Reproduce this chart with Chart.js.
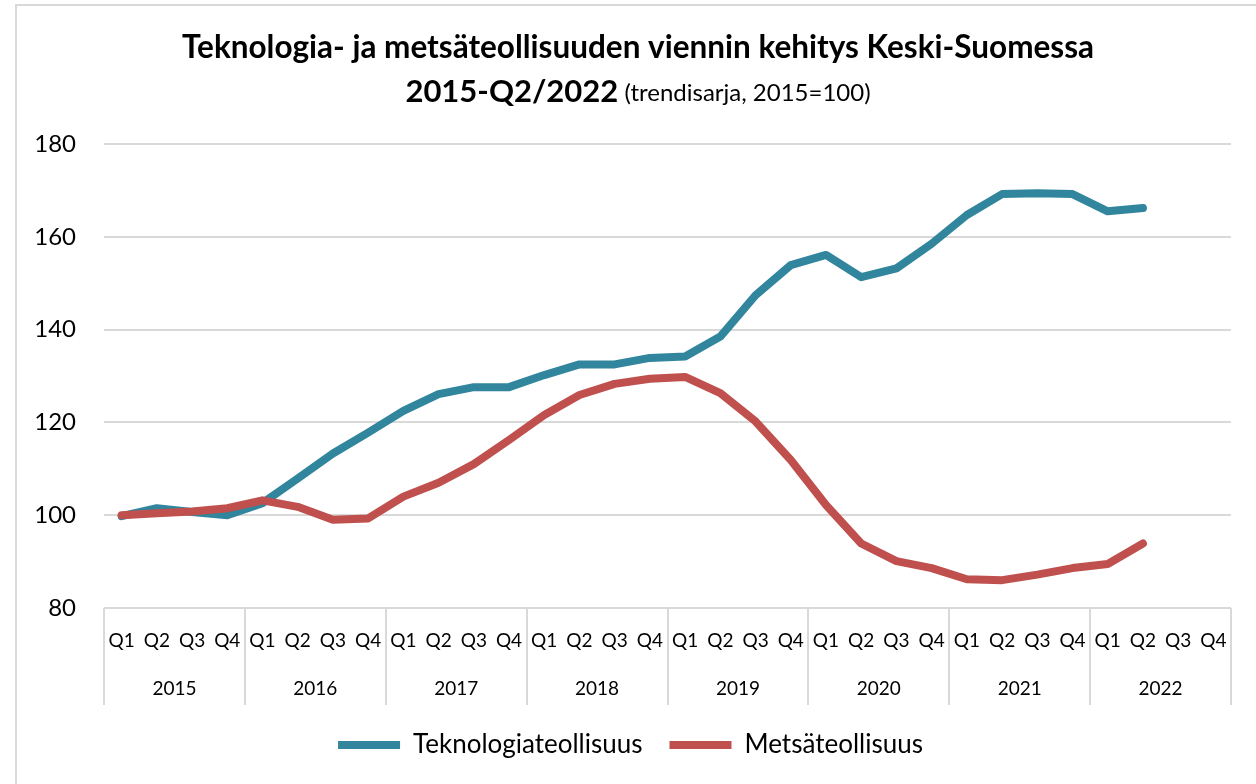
<!DOCTYPE html>
<html>
<head>
<meta charset="utf-8">
<script src="https://cdn.jsdelivr.net/npm/chart.js@4/dist/chart.umd.min.js"></script>
<style>
  html, body { margin: 0; padding: 0; background: #fff; overflow: hidden; }
  #wrap { width: 1256px; height: 784px; position: relative; }
</style>
</head>
<body>
<div id="wrap"><canvas id="kaavio" width="1256" height="784"></canvas></div>
<script>
const vuodet = ['2015', '2016', '2017', '2018', '2019', '2020', '2021', '2022'];
const neljannekset = ['Q1', 'Q2', 'Q3', 'Q4'];
const kvartaalit = vuodet.flatMap(() => neljannekset);

const teknologia = [99.8, 101.5, 100.7, 100.0, 102.6, 107.9, 113.3, 117.8,
  122.5, 126.1, 127.6, 127.6, 130.2, 132.5, 132.5, 133.9,
  134.2, 138.5, 147.4, 153.9, 156.1, 151.3, 153.2, 158.5,
  164.7, 169.2, 169.4, 169.2, 165.5, 166.2, null, null];

const metsa = [100.0, 100.4, 100.8, 101.5, 103.2, 101.8, 99.0, 99.3,
  104.0, 107.0, 111.0, 116.2, 121.6, 125.9, 128.3, 129.4,
  129.8, 126.3, 120.2, 111.9, 102.2, 93.9, 90.1, 88.6,
  86.2, 86.0, 87.2, 88.6, 89.5, 93.9, null, null];

const otsikko1 = 'Teknologia- ja metsäteollisuuden viennin kehitys Keski-Suomessa';
const otsikko2a = '2015-Q2/2022';
const otsikko2b = ' (trendisarja, 2015=100)';

const FONTTI = 'Lato, "Open Sans", sans-serif';
const HARMAA = '#d9d9d9';

// kehys, otsikko ja vuosien erottimet
const kehysJaOtsikko = {
  id: 'kehysJaOtsikko',
  beforeDraw(chart) {
    const ctx = chart.ctx;
    ctx.save();
    ctx.fillStyle = '#fff';
    ctx.fillRect(0, 0, chart.width, chart.height);
    ctx.strokeStyle = HARMAA;
    ctx.lineWidth = 2;
    ctx.strokeRect(16, 5, chart.width + 10, chart.height + 10);
    ctx.restore();
  },
  afterDraw(chart) {
    const ctx = chart.ctx;
    const keski = 638;
    ctx.save();
    ctx.fillStyle = '#000';
    ctx.textBaseline = 'middle';
    ctx.textAlign = 'center';
    ctx.font = 'bold 31.5px ' + FONTTI;
    ctx.fillText(otsikko1, keski, 48);

    ctx.textAlign = 'left';
    ctx.font = 'bold 31px ' + FONTTI;
    const l1 = ctx.measureText(otsikko2a).width;
    ctx.font = '24px ' + FONTTI;
    const l2 = ctx.measureText(otsikko2b).width;
    const alku = keski - (l1 + l2) / 2;
    ctx.font = 'bold 31px ' + FONTTI;
    ctx.fillText(otsikko2a, alku, 92);
    ctx.font = '24px ' + FONTTI;
    ctx.fillText(otsikko2b, alku + l1, 93);

    const x = chart.scales.x;
    const ala = chart.chartArea.bottom;
    ctx.strokeStyle = HARMAA;
    ctx.lineWidth = 2;
    for (let i = 0; i <= kvartaalit.length; i += 4) {
      const px = Math.round(x.getPixelForValue(i - 0.5));
      ctx.beginPath();
      ctx.moveTo(px, ala);
      ctx.lineTo(px, ala + 97);
      ctx.stroke();
    }
    ctx.restore();
  }
};

new Chart(document.getElementById('kaavio'), {
  type: 'line',
  data: {
    labels: kvartaalit,
    datasets: [
      {
        label: 'Teknologiateollisuus',
        data: teknologia,
        borderColor: '#31859C',
        backgroundColor: '#31859C',
        borderWidth: 8,
        borderCapStyle: 'round',
        borderJoinStyle: 'round',
        pointRadius: 0,
        tension: 0,
        order: 2
      },
      {
        label: 'Metsäteollisuus',
        data: metsa,
        borderColor: '#C0504D',
        backgroundColor: '#C0504D',
        borderWidth: 8,
        borderCapStyle: 'round',
        borderJoinStyle: 'round',
        pointRadius: 0,
        tension: 0,
        order: 1
      }
    ]
  },
  options: {
    responsive: false,
    animation: false,
    layout: { padding: { top: 144, left: 30, right: 25, bottom: 16 } },
    plugins: {
      title: { display: false },
      tooltip: { enabled: false },
      legend: {
        position: 'bottom',
        labels: {
          usePointStyle: true,
          pointStyle: 'line',
          pointStyleWidth: 62,
          padding: 27,
          color: '#000',
          font: { family: FONTTI, size: 26 },
          sort: (a, b) => a.datasetIndex - b.datasetIndex
        }
      }
    },
    scales: {
      y: {
        min: 80,
        max: 180,
        ticks: {
          stepSize: 20,
          padding: 28,
          color: '#000',
          font: { family: FONTTI, size: 24 }
        },
        grid: { color: HARMAA, lineWidth: 2, drawTicks: false },
        border: { display: false },
        afterFit(scale) { scale.width = 74; }
      },
      x: {
        offset: true,
        weight: 0,
        ticks: {
          autoSkip: false,
          maxRotation: 0,
          padding: 21,
          color: '#000',
          font: { family: FONTTI, size: 19 }
        },
        grid: { display: false, drawTicks: false },
        border: { display: false },
        afterFit(scale) { scale.height = 47; }
      },
      x2: {
        type: 'category',
        labels: vuodet,
        position: 'bottom',
        weight: 1,
        offset: true,
        ticks: {
          autoSkip: false,
          maxRotation: 0,
          padding: 22,
          color: '#000',
          font: { family: FONTTI, size: 19 }
        },
        grid: { display: false, drawTicks: false },
        border: { display: false },
        afterFit(scale) { scale.height = 50; }
      }
    }
  },
  plugins: [kehysJaOtsikko]
});
</script>
</body>
</html>
